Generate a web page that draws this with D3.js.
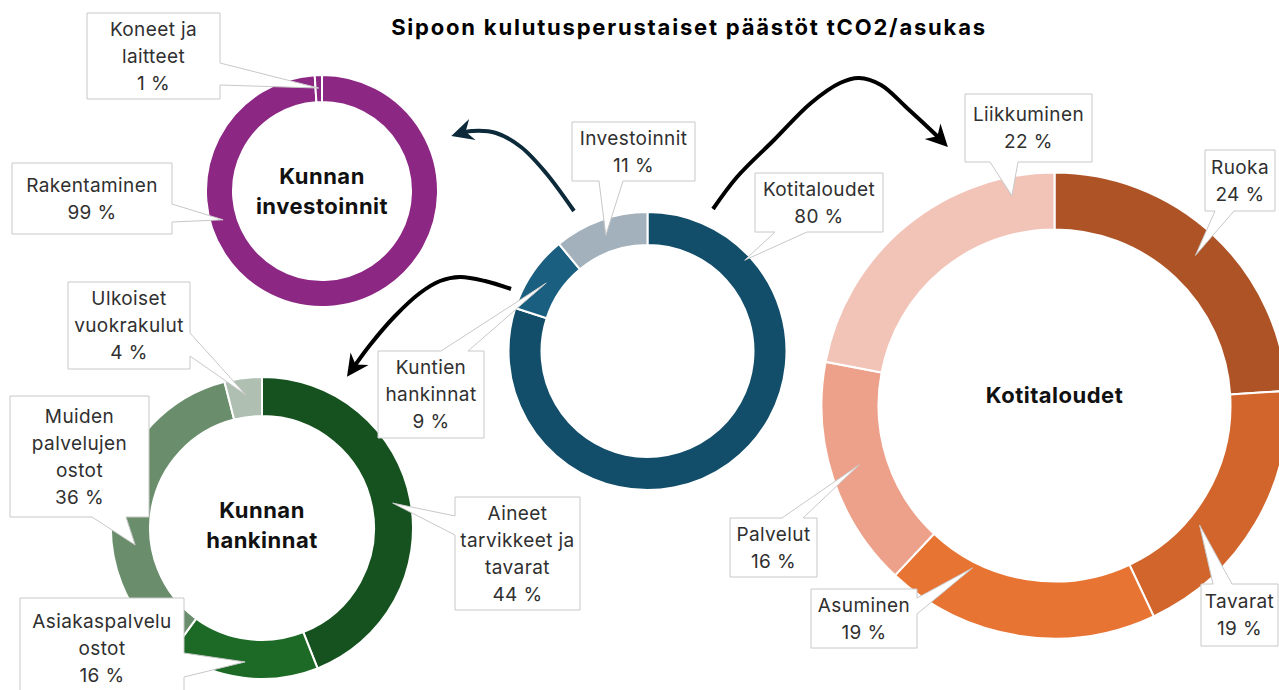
<!DOCTYPE html>
<html lang="fi">
<head>
<meta charset="UTF-8">
<title>Sipoon kulutusperustaiset päästöt</title>
<script src="https://d3js.org/d3.v7.min.js"></script>
<style>
  body { margin: 0; background: #fff; }
  text { font-family: "Inter", "Noto Sans", sans-serif; }
  .callout path { fill: #fff; stroke: #c8c8c8; stroke-width: 1; }
  .callout text { font-size: 19px; letter-spacing: 0.4px; fill: #303030; text-anchor: middle; dominant-baseline: central; }
  .center-label { font-size: 22px; letter-spacing: 0.5px; font-weight: 700; fill: #111; text-anchor: middle; dominant-baseline: central; }
  .title { font-size: 22px; letter-spacing: 1.8px; font-weight: 700; fill: #000; text-anchor: middle; }
</style>
</head>
<body>
<script>
// ---- data ----
var title = "Sipoon kulutusperustaiset päästöt tCO2/asukas";

var mainCats = ["Kotitaloudet", "Kuntien hankinnat", "Investoinnit"];
var mainVals = [80, 9, 11];

var investCats = ["Rakentaminen", "Koneet ja laitteet"];
var investVals = [99, 1];

var procCats = ["Aineet tarvikkeet ja tavarat", "Asiakaspalvelu ostot", "Muiden palvelujen ostot", "Ulkoiset vuokrakulut"];
var procVals = [44, 16, 36, 4];

var homeCats = ["Ruoka", "Tavarat", "Asuminen", "Palvelut", "Liikkuminen"];
var homeVals = [24, 19, 19, 16, 22];

// ---- layout ----
var W = 1279, H = 690, LH = 27;

// callout: box [x,y,w,h], wedge side + base, tip at fraction t of slice angle and radius r, word breaks
var donuts = [
  {cats: investCats, vals: investVals, colors: ["#8c2783", "#8c2783"],
   cx: 322, cy: 191, r0: 89, r1: 116, label: ["Kunnan", "investoinnit"], ldy: 0,
   callouts: [
     {box: [12, 163, 160, 71], side: "right", base: [204, 222], t: 0.712, r: 103, br: [1]},
     {box: [87, 13, 133, 86], side: "right", base: [63, 85], t: 0.5, r: 103, br: [2, 1]}
   ]},
  {cats: mainCats, vals: mainVals, colors: ["#124e6a", "#1a5f80", "#a3b1bd"],
   cx: 647.5, cy: 351, r0: 106, r1: 139, label: [], ldy: 0,
   callouts: [
     {box: [755, 173, 128, 59], side: "bottom", base: [775, 807], t: 0.163, r: 133, br: [1]},
     {box: [378, 351, 106, 87], side: "top", base: [441, 468], t: 0.49, r: 122, br: [1, 1]},
     {box: [572, 122, 123, 59], side: "bottom", base: [599, 623], t: 0.5, r: 123, br: [1]}
   ]},
  {cats: procCats, vals: procVals, colors: ["#15521f", "#1c6a25", "#6a8e6c", "#afbfb1"],
   cx: 262, cy: 528, r0: 112, r1: 151, label: ["Kunnan", "hankinnat"], ldy: -3,
   callouts: [
     {box: [455, 497, 125, 113], side: "left", base: [516, 535], t: 0.5, r: 133, br: [1, 2, 1]},
     {box: [20, 598, 164, 100], side: "right", base: [653, 677], t: 0.5, r: 135, br: [1, 1]},
     {box: [10, 396, 139, 121], side: "bottom", base: [92, 126], t: 0.358, r: 128, br: [1, 1, 1]},
     {box: [68, 282, 122, 87], side: "right", base: [333, 356], t: 0.52, r: 134, br: [1, 1]}
   ]},
  {cats: homeCats, vals: homeVals, colors: ["#ae5325", "#d1652c", "#e87434", "#eda18a", "#f2c4b8"],
   cx: 1054.5, cy: 405.5, r0: 176, r1: 233, label: ["Kotitaloudet"], ldy: -11,
   callouts: [
     {box: [1205, 150, 70, 61], side: "bottom", base: [1215, 1234], t: 0.5, r: 206, br: [1]},
     {box: [1201, 584, 77, 62], side: "top", base: [1213, 1232], t: 0.63, r: 188, br: [1]},
     {box: [811, 589, 106, 59], side: "right", base: [598, 614], t: 0.76, r: 182, br: [1]},
     {box: [730, 518, 87, 59], side: "top", base: [782, 803], t: 0.52, r: 204, br: [1]},
     {box: [965, 94, 127, 68], side: "bottom", base: [990, 1018], t: 0.855, r: 214, br: [1]}
   ]}
];

var arrows = [
  {id: "navy", color: "#0d2a3a", pts: [[574, 211], [546, 173], [521, 147], [496, 133], [472, 131], [458, 134]]},
  {id: "blk1", color: "#000", pts: [[713, 209], [737, 177], [774, 140], [811, 103], [840, 83], [859, 78], [881, 85], [907, 108], [936, 135], [943, 142]]},
  {id: "blk2", color: "#000", pts: [[511, 289], [485, 281], [460, 277], [440, 281], [420, 293], [395, 316], [370, 345], [351, 371]]}
];

var svg = d3.select("body").append("svg")
  .attr("width", W)
  .attr("height", H);

svg.append("text")
  .attr("class", "title")
  .attr("x", 689)
  .attr("y", 35)
  .text(title);

var defs = svg.append("defs");
arrows.forEach(function (a) {
  defs.append("marker")
    .attr("id", "head-" + a.id)
    .attr("viewBox", "-16 -12 24 24")
    .attr("refX", 0).attr("refY", 0)
    .attr("markerWidth", 24).attr("markerHeight", 24)
    .attr("markerUnits", "userSpaceOnUse")
    .attr("orient", "auto")
    .append("path")
      .attr("d", "M7,0 L-15,-11 L-8,0 L-15,11 Z")
      .attr("fill", a.color);
});

var ringLayer = svg.append("g");
var arrowLayer = svg.append("g");
var calloutLayer = svg.append("g");

function calloutPath(c, tip) {
  var x = c.box[0], y = c.box[1], w = c.box[2], h = c.box[3];
  var a = c.base[0], b = c.base[1];
  var p = d3.path();
  p.moveTo(x, y);
  if (c.side === "top") { p.lineTo(a, y); p.lineTo(tip[0], tip[1]); p.lineTo(b, y); }
  p.lineTo(x + w, y);
  if (c.side === "right") { p.lineTo(x + w, a); p.lineTo(tip[0], tip[1]); p.lineTo(x + w, b); }
  p.lineTo(x + w, y + h);
  if (c.side === "bottom") { p.lineTo(b, y + h); p.lineTo(tip[0], tip[1]); p.lineTo(a, y + h); }
  p.lineTo(x, y + h);
  if (c.side === "left") { p.lineTo(x, b); p.lineTo(tip[0], tip[1]); p.lineTo(x, a); }
  p.closePath();
  return p.toString();
}

function splitWords(name, br) {
  var words = name.split(" "), out = [], k = 0;
  br.forEach(function (n) {
    out.push(words.slice(k, k + n).join(" "));
    k += n;
  });
  if (k < words.length) out.push(words.slice(k).join(" "));
  return out;
}

donuts.forEach(function (dn) {
  var slices = d3.pie().sort(null).value(function (d) { return d; })(dn.vals);
  var arc = d3.arc().innerRadius(dn.r0).outerRadius(dn.r1);

  var g = ringLayer.append("g")
    .attr("transform", "translate(" + dn.cx + "," + dn.cy + ")");

  g.selectAll("path")
    .data(slices)
    .enter().append("path")
      .attr("d", arc)
      .attr("fill", function (d, i) { return dn.colors[i]; })
      .attr("stroke", "#fff")
      .attr("stroke-width", 2);

  g.selectAll("text.center-label")
    .data(dn.label)
    .enter().append("text")
      .attr("class", "center-label")
      .attr("x", 0)
      .attr("y", function (d, i) { return dn.ldy + (i - (dn.label.length - 1) / 2) * 30; })
      .text(function (d) { return d; });

  dn.callouts.forEach(function (c, i) {
    var s = slices[i];
    var ang = s.startAngle + c.t * (s.endAngle - s.startAngle);
    var tip = [dn.cx + c.r * Math.sin(ang), dn.cy - c.r * Math.cos(ang)];
    var cg = calloutLayer.append("g").attr("class", "callout");
    cg.append("path").attr("d", calloutPath(c, tip));
    var lines = splitWords(dn.cats[i], c.br).concat([dn.vals[i] + " %"]);
    var mx = c.box[0] + c.box[2] / 2, my = c.box[1] + c.box[3] / 2;
    cg.selectAll("text")
      .data(lines)
      .enter().append("text")
        .attr("x", mx)
        .attr("y", function (d, j) { return my + (j - (lines.length - 1) / 2) * LH; })
        .text(function (d) { return d; });
  });
});

var line = d3.line().curve(d3.curveCatmullRom);
arrows.forEach(function (a) {
  arrowLayer.append("path")
    .attr("d", line(a.pts))
    .attr("fill", "none")
    .attr("stroke", a.color)
    .attr("stroke-width", 4)
    .attr("marker-end", "url(#head-" + a.id + ")");
});
</script>
</body>
</html>
